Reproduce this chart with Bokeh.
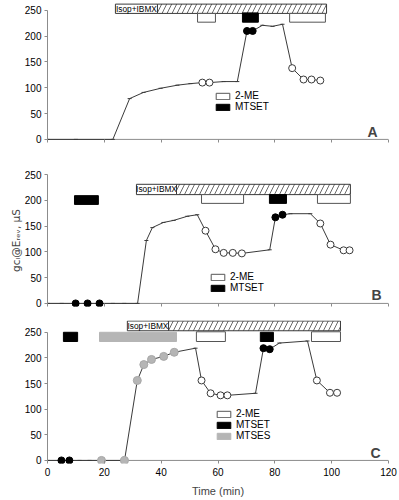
from bokeh.plotting import figure
from bokeh.layouts import column
from bokeh.models import (Legend, LegendItem, Label, SingleIntervalTicker,
                          ColumnDataSource, Range1d, Span)
from bokeh.core.properties import value
from bokeh.embed import file_html
from bokeh.resources import INLINE

FONT = "Liberation Sans"

# ---------------- data ----------------
# Panel A
a_time = [0, 10, 23, 28.9, 33.8, 39.8, 45.7, 50.3, 54.5, 57, 62, 66.8,
          70.2, 72.2, 75.6, 79.2, 82.7, 86.1, 90.1, 92.9, 96]
a_gcl = [0, 0, 0, 79, 91, 99, 105, 108, 110, 110, 112, 112,
         210, 210, 221, 219, 223, 138, 116, 116, 114]
a_kind = (["plain"] * 8 + ["2-ME"] * 2 + ["plain"] * 2 + ["MTSET"] * 2
          + ["plain"] * 3 + ["2-ME"] * 4)
a_isop = (23.9, 38.7, 98.2)          # start, end of label box, end
a_me = [(52.8, 59.1), (85.2, 97.8)]
a_mtset = [(68.6, 74.2)]
a_mtses = []

# Panel B
b_time = [0, 5, 9.9, 14.1, 18.3, 23, 27, 31.7, 34.8, 36.9, 40.8, 44.4,
          49.2, 52.7, 55.6, 59.1, 62, 65.2, 68.4, 78.2, 80.2, 82.7, 85.5,
          92.5, 96, 99.6, 104.2, 106.3]
b_gcl = [0, 0, 0, 0, 0, 0, 0, 0, 122, 147, 157, 161, 169, 172, 141, 105,
         98, 98, 97, 104, 167, 172, 174, 174, 155, 114, 103, 103]
b_kind = (["plain"] * 2 + ["MTSET"] * 3 + ["plain"] * 9 + ["2-ME"] * 5
          + ["plain"] + ["MTSET"] * 2 + ["plain"] * 2 + ["2-ME"] * 4)
b_isop = (31.3, 45.4, 106.6)
b_me = [(54.2, 69.0), (95.0, 106.6)]
b_mtset = [(9.5, 17.9), (78.1, 84.1)]
b_mtses = []

# Panel C
c_time = [0, 4.9, 7.7, 11.3, 14.8, 19, 27.1, 31.6, 33.9, 36.6, 40.9, 44.6,
          52.1, 54.2, 57.4, 60.9, 63.3, 73.2, 76, 78.2, 81.6, 91.5, 94.8,
          99.4, 101.9]
c_gcl = [0, 0, 0, 0, 0, 0, 0, 156, 187, 197, 203, 211, 219, 156, 131, 127,
         127, 131, 219, 217, 229, 233, 156, 132, 132]
c_kind = (["plain"] + ["MTSET"] * 2 + ["plain"] * 2 + ["MTSES"] * 7
          + ["plain"] + ["2-ME"] * 4 + ["plain"] + ["MTSET"] * 2
          + ["plain"] * 2 + ["2-ME"] * 3)
c_isop = (28.1, 42.6, 103.1)
c_me = [(52.4, 62.6), (92.9, 103.1)]
c_mtset = [(5.6, 10.6), (74.9, 79.5)]
c_mtses = [(18.3, 45.4)]

x_ticks_interval = 20
y_ticks_interval = 50

y_title = "g\u1d04\u2097@E\u1d63\u2091\u1d65, \u03bcS"

# ---------------- layout ----------------
W = 398
LEFT = 47
RIGHT = W - LEFT - 341
LINE = "#3a3a3a"
AXIS = "#8c8c8c"
GRAY = "#b5b5b5"


def base_fig(height, top, bottom, y_end, show_xlabels):
    p = figure(width=W, height=height, x_range=Range1d(0, 120),
               y_range=Range1d(-6, y_end), output_backend="svg",
               toolbar_location=None, min_border_left=LEFT,
               min_border_right=RIGHT, min_border_top=top,
               min_border_bottom=bottom, outline_line_color=None)
    p.grid.visible = False
    xa = p.xaxis[0]
    ya = p.yaxis[0]
    xa.ticker = SingleIntervalTicker(interval=x_ticks_interval, num_minor_ticks=0)
    ya.ticker = SingleIntervalTicker(interval=y_ticks_interval, num_minor_ticks=0)
    ya.bounds = (0, 250)
    for ax in (xa, ya):
        ax.axis_line_color = AXIS
        ax.major_tick_line_color = AXIS
        ax.minor_tick_line_color = None
        ax.major_label_text_font = FONT
        ax.major_label_text_font_size = "10px"
        ax.major_label_text_color = "black"
    ya.major_tick_in = 0
    ya.major_tick_out = 3
    ya.major_label_standoff = 3
    # x axis: line drawn at g = 0 (span), ticks hang down to frame bottom
    xa.axis_line_color = None
    xa.major_tick_in = 3
    xa.major_tick_out = 0
    xa.major_label_standoff = 4
    p.add_layout(Span(location=0, dimension="width", line_color=AXIS,
                      line_width=1, level="underlay"))
    if not show_xlabels:
        xa.major_label_overrides = {v: "" for v in range(0, 121, 20)}
        xa.major_label_text_font_size = "1px"
        xa.major_label_standoff = 0
    return p


def draw_panel(p, times, vals, kinds, isop, me, mtset, mtses,
               isop_lv, box_lv, mtset_lv, letter, letter_pos, legend_loc):
    s0, s1, s2 = isop
    p.quad(left=[s0], right=[s1], bottom=[isop_lv[0]], top=[isop_lv[1]],
           fill_color="white", line_color=LINE, line_width=1)
    p.text(x=[(s0 + s1) / 2], y=[(isop_lv[0] + isop_lv[1]) / 2],
           text=["Isop+IBMX"], text_font=value(FONT), text_font_size="8.3px",
           text_align="center", text_baseline="middle", text_color="black")
    p.quad(left=[s1], right=[s2], bottom=[isop_lv[0]], top=[isop_lv[1]],
           fill_color="white", hatch_pattern="/", hatch_color="#444444",
           hatch_scale=10, hatch_weight=0.8, line_color=LINE, line_width=1)
    items = []
    me_r = p.quad(left=[a for a, b in me], right=[b for a, b in me],
                  bottom=box_lv[0], top=box_lv[1], fill_color="white",
                  line_color="#555555", line_width=1)
    items.append(LegendItem(label="2-ME", renderers=[me_r]))
    mt_r = p.quad(left=[a for a, b in mtset], right=[b for a, b in mtset],
                  bottom=[l[0] for l in mtset_lv], top=[l[1] for l in mtset_lv],
                  fill_color="black", line_color="black", line_width=1)
    items.append(LegendItem(label="MTSET", renderers=[mt_r]))
    if mtses:
        ms_r = p.quad(left=[a for a, b in mtses], right=[b for a, b in mtses],
                      bottom=box_lv[0], top=box_lv[0] + 18, fill_color=GRAY,
                      line_color=GRAY, line_width=1)
        items.append(LegendItem(label="MTSES", renderers=[ms_r]))

    p.line(times, vals, line_color=LINE, line_width=1)

    def sub(kind):
        idx = [i for i, k in enumerate(kinds) if k == kind]
        return ColumnDataSource(dict(t=[times[i] for i in idx],
                                     g=[vals[i] for i in idx]))

    p.scatter("t", "g", source=sub("plain"), marker="dash", size=4,
              line_color=LINE, line_width=1)
    p.scatter("t", "g", source=sub("2-ME"), marker="circle", size=7,
              fill_color="white", line_color=LINE, line_width=1)
    p.scatter("t", "g", source=sub("MTSET"), marker="circle", size=7,
              fill_color="black", line_color="black", line_width=1)
    p.scatter("t", "g", source=sub("MTSES"), marker="circle", size=8,
              fill_color=GRAY, line_color="#a8a8a8", line_width=1)

    leg = Legend(items=items, location=legend_loc, orientation="vertical",
                 background_fill_alpha=0, border_line_color=None, padding=0,
                 margin=0, spacing=0, glyph_width=17, glyph_height=8,
                 label_height=8, label_standoff=4, label_text_font=FONT,
                 label_text_font_size="10px", label_text_color="black")
    p.add_layout(leg)

    p.add_layout(Label(x=letter_pos[0], y=letter_pos[1], x_units="screen",
                       y_units="screen", text=letter, text_font=FONT,
                       text_font_style="bold", text_font_size="14px",
                       text_align="center", text_baseline="middle"))


pa = base_fig(166, 0, 24, 269, False)
draw_panel(pa, a_time, a_gcl, a_kind, a_isop, a_me, a_mtset, a_mtses,
           (244, 262), (227, 244), [(227, 245)] * len(a_mtset),
           "A", (325, 11), (167, 30))

pb = base_fig(154, 8, 14, 250, False)
draw_panel(pb, b_time, b_gcl, b_kind, b_isop, b_me, b_mtset, b_mtses,
           (211, 231), (194, 211), [(192, 209), (194, 211)],
           "B", (329, 12), (162, 13))
yb = pb.yaxis[0]
yb.axis_label = y_title
yb.axis_label_text_font = "DejaVu Sans"
yb.axis_label_text_font_size = "10.5px"
yb.axis_label_text_font_style = "normal"
yb.axis_label_standoff = 0

pc = base_fig(180, 0, 37, 273, True)
draw_panel(pc, c_time, c_gcl, c_kind, c_isop, c_me, c_mtset, c_mtses,
           (253, 272), (232, 251), [(232, 250)] * len(c_mtset),
           "C", (328, 11), (168, 22))
pc.xaxis[0].axis_label = "Time (min)"
pc.xaxis[0].axis_label_text_font = FONT
pc.xaxis[0].axis_label_text_font_size = "11px"
pc.xaxis[0].axis_label_text_font_style = "normal"
pc.xaxis[0].axis_label_standoff = 6

layout = column(pa, pb, pc, spacing=0)
open("out.html", "w").write(file_html(layout, INLINE))
